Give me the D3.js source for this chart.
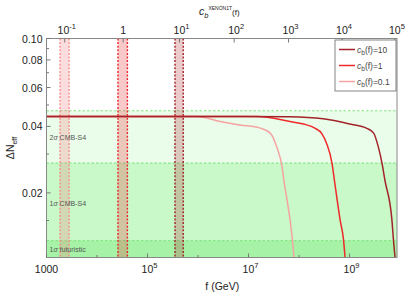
<meta charset="utf-8">
<style>
body { margin: 0; background: #fff; }
svg { font-family: "Liberation Sans", Arial, Helvetica, sans-serif; }
.tick-label { font-size: 10.5px; fill: #222; }
.band-label { font-size: 7px; fill: #555; }
.legend-text { font-size: 8.5px; fill: #444; }
</style>
<body>
<script src="https://cdnjs.cloudflare.com/ajax/libs/d3/7.8.5/d3.min.js"></script>
<script>

var width = 409;
var height = 297;
var margin = {left: 46.5, right: 12, top: 38.5, bottom: 39.5};

// curves: f (GeV) and Delta N_eff
var curveNames = ["10", "1", "0.1"];
var curveColors = ["#a3232a", "#ee2a2a", "#f5a3a3"];

var fPink = [1e3, 9.5e5, 2.75e6, 6.8e6, 1.7e7, 2.7e7, 3.6e7, 4.6e7, 5.0e7, 7.4e7, 8.0e7];
var nPink = [0.0444, 0.0444, 0.0421, 0.0406, 0.0393, 0.0373, 0.0324, 0.0263, 0.0229, 0.01225, 0.0100];

var fRed = [1e3, 1.5e7, 6.6e7, 1.23e8, 2.1e8, 2.8e8, 3.5e8, 4.5e8, 5.0e8, 6.5e8, 7.6e8, 8.2e8];
var nRed = [0.0444, 0.0443, 0.0421, 0.0410, 0.0392, 0.0372, 0.0336, 0.0272, 0.0229, 0.0151, 0.01225, 0.0100];

var fDark = [1e3, 6.8e6, 6.6e7, 3.0e8, 1.02e9, 2.2e9, 3.0e9, 3.7e9, 4.4e9, 5.0e9, 6.9e9, 7.4e9, 8.0e9];
var nDark = [0.0444, 0.0444, 0.0442, 0.0433, 0.0410, 0.0392, 0.0373, 0.0324, 0.0272, 0.0229, 0.0151, 0.01225, 0.0100];

// sensitivity levels (green regions)
var levelValues = [0.0471, 0.0273, 0.01217];
var levelLabels = ["2σ CMB-S4", "1σ CMB-S4", "1σ futuristic"];
var levelFills = ["#eafdea", "#c9f8c9", "#a6f2a6"];

// XENON1T bands (f range) for c_b = 0.1, 1, 10
var bandLo = [1.85e3, 2.6e4, 3.5e5];
var bandHi = [2.8e3, 4.0e4, 5.1e5];
var bandStroke = ["#f58f8f", "#e8262b", "#a3232a"];
var bandFill = ["rgba(245,120,120,0.25)", "rgba(235,60,60,0.28)", "rgba(175,45,50,0.25)"];

// axes ticks
var yMajor = [0.10, 0.08, 0.06, 0.04, 0.02];
var yMajorLabels = ["0.10", "0.08", "0.06", "0.04", "0.02"];
var yMinor = [0.09, 0.07, 0.05, 0.03, 0.015];
var xMajor = [1e3, 1e5, 1e7, 1e9];
var xMajorBase = ["1000", "10", "10", "10"];
var xMajorExp = ["", "5", "7", "9"];
var xMinor = [1e4, 1e6, 1e8];
// top axis c_b^XENON1T(f): position given by f
var topTickF = [2.3e3, 3.3e4, 4.3e5, 5.2e6, 6.2e7, 7.1e8, 7.9e9];
var topTickBase = ["10", "1", "10", "10", "10", "10", "10"];
var topTickExp = ["-1", "", "1", "2", "3", "4", "5"];

var x = d3.scaleLog().domain([1e3, 8.7e9]).range([margin.left, width - margin.right]);
var y = d3.scaleLog().domain([0.0102, 0.1]).range([height - margin.bottom, margin.top]);

var x0 = x.range()[0], x1 = x.range()[1];
var yb = y.range()[0], yt = y.range()[1];

var svg = d3.select("body").append("svg")
    .attr("width", width)
    .attr("height", height);

svg.append("clipPath").attr("id", "clip")
  .append("rect")
    .attr("x", x0).attr("y", yt)
    .attr("width", x1 - x0).attr("height", yb - yt);

var plot = svg.append("g").attr("clip-path", "url(#clip)");

// green regions
levelValues.forEach(function(v, i) {
  plot.append("rect")
      .attr("x", x0).attr("y", y(v))
      .attr("width", x1 - x0).attr("height", yb - y(v))
      .attr("fill", levelFills[i]);
});
levelValues.forEach(function(v, i) {
  plot.append("line")
      .attr("x1", x0).attr("x2", x1)
      .attr("y1", y(v)).attr("y2", y(v))
      .attr("stroke", "#86e886")
      .attr("stroke-width", 1.2)
      .attr("stroke-dasharray", "2.5,2");
});

// XENON1T bands
bandLo.forEach(function(lo, i) {
  plot.append("rect")
      .attr("x", x(lo)).attr("y", yt)
      .attr("width", x(bandHi[i]) - x(lo)).attr("height", yb - yt)
      .attr("fill", bandFill[i]);
  [lo, bandHi[i]].forEach(function(f) {
    plot.append("line")
        .attr("x1", x(f)).attr("x2", x(f))
        .attr("y1", yt).attr("y2", yb)
        .attr("stroke", bandStroke[i])
        .attr("stroke-width", 1.4)
        .attr("stroke-dasharray", "2,1.6");
  });
});

// band labels
levelValues.forEach(function(v, i) {
  var ty = [140, 205.5, 251.5][i];
  var t = plot.append("text")
      .attr("class", "band-label")
      .attr("x", x0 + 3)
      .attr("y", ty);
  var parts = levelLabels[i].split("σ");
  t.append("tspan").text(parts[0]);
  t.append("tspan").attr("font-style", "italic").text("σ");
  t.append("tspan").text(parts[1]);
});

// curves
var line = d3.line()
    .x(function(d) { return x(d[0]); })
    .y(function(d) { return y(d[1]); })
    .curve(d3.curveMonotoneX);

var curves = [d3.zip(fDark, nDark), d3.zip(fRed, nRed), d3.zip(fPink, nPink)];
[2, 1, 0].forEach(function(i) {
  plot.append("path")
      .datum(curves[i])
      .attr("d", line)
      .attr("fill", "none")
      .attr("stroke", curveColors[i])
      .attr("stroke-width", 1.5);
});

// frame
svg.append("rect")
    .attr("x", x0).attr("y", yt)
    .attr("width", x1 - x0).attr("height", yb - yt)
    .attr("fill", "none")
    .attr("stroke", "#888")
    .attr("stroke-width", 1);

var tickColor = "#777";

// left ticks
yMajor.forEach(function(v, i) {
  svg.append("line")
      .attr("x1", x0).attr("x2", x0 + 4)
      .attr("y1", y(v)).attr("y2", y(v))
      .attr("stroke", tickColor);
  svg.append("text")
      .attr("class", "tick-label")
      .attr("x", x0 - 4).attr("y", y(v) + 4)
      .attr("text-anchor", "end")
      .text(yMajorLabels[i]);
});
yMinor.forEach(function(v) {
  svg.append("line")
      .attr("x1", x0).attr("x2", x0 + 2.5)
      .attr("y1", y(v)).attr("y2", y(v))
      .attr("stroke", tickColor);
});

// bottom ticks
function powLabel(sel, base, exp, xp, yp) {
  var t = sel.append("text")
      .attr("class", "tick-label")
      .attr("x", xp).attr("y", yp)
      .attr("text-anchor", "middle");
  t.append("tspan").text(base);
  if (exp) {
    t.append("tspan").attr("dy", -5).attr("font-size", "7.5px").text(exp);
  }
  return t;
}

xMajor.forEach(function(v, i) {
  svg.append("line")
      .attr("x1", x(v)).attr("x2", x(v))
      .attr("y1", yb).attr("y2", yb - 4)
      .attr("stroke", tickColor);
  powLabel(svg, xMajorBase[i], xMajorExp[i], x(v) + (xMajorExp[i] ? 2 : 0), yb + 15);
});
xMinor.forEach(function(v) {
  svg.append("line")
      .attr("x1", x(v)).attr("x2", x(v))
      .attr("y1", yb).attr("y2", yb - 2.5)
      .attr("stroke", tickColor);
});

// top ticks
topTickF.forEach(function(f, i) {
  svg.append("line")
      .attr("x1", x(f)).attr("x2", x(f))
      .attr("y1", yt).attr("y2", yt + 4)
      .attr("stroke", tickColor);
  powLabel(svg, topTickBase[i], topTickExp[i], x(f) + (topTickExp[i] ? 2 : 0), yt - 5);
});

// axis titles
svg.append("text")
    .attr("class", "tick-label")
    .attr("x", (x0 + x1) / 2 + 0.5).attr("y", 290)
    .attr("text-anchor", "middle")
    .text("f (GeV)");

var yt1 = svg.append("text")
    .attr("class", "tick-label")
    .attr("transform", "translate(14," + 148 + ") rotate(-90)")
    .attr("text-anchor", "middle");
yt1.append("tspan").text("ΔN");
yt1.append("tspan").attr("dy", 3).attr("font-size", "7px").text("eff");

var tt = svg.append("text")
    .attr("class", "tick-label")
    .attr("x", 199).attr("y", 15);
tt.append("tspan").attr("font-style", "italic").text("c");
tt.append("tspan").attr("dy", 3).attr("font-size", "7.5px").attr("font-style", "italic").text("b");
tt.append("tspan").attr("dy", -8).attr("font-size", "5px").text("XENON1T");
tt.append("tspan").attr("dy", 5).attr("font-size", "8px").text("(f)");

// legend
var lg = svg.append("g");
lg.append("rect")
    .attr("x", 335).attr("y", 40)
    .attr("width", x1 - 335 - 1).attr("height", 51)
    .attr("fill", "#fff")
    .attr("stroke", "#666")
    .attr("stroke-width", 0.8);
curveNames.forEach(function(n, i) {
  var ly = 49.5 + i * 16;
  lg.append("line")
      .attr("x1", 339).attr("x2", 355)
      .attr("y1", ly).attr("y2", ly)
      .attr("stroke", curveColors[i])
      .attr("stroke-width", 1.5);
  var t = lg.append("text")
      .attr("class", "legend-text")
      .attr("x", 357).attr("y", ly + 3);
  t.append("tspan").attr("font-style", "italic").text("c");
  t.append("tspan").attr("dy", 2).attr("font-size", "6.5px").text("b");
  t.append("tspan").attr("dy", -2).text("(f)=" + n);
});

</script>
